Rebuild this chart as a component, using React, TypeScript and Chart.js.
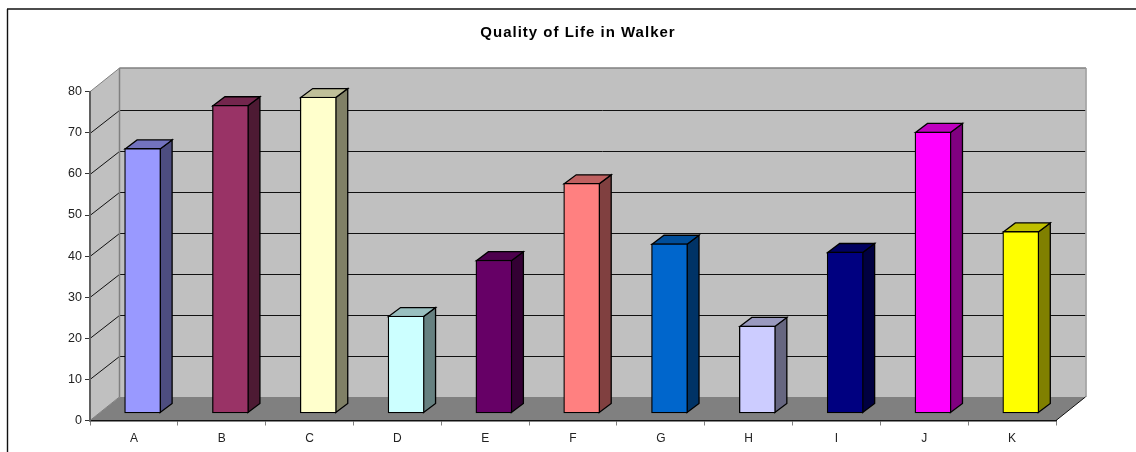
import React, { useEffect, useRef } from "react";
import { Chart, registerables } from "chart.js";

Chart.register(...registerables);

const TITLE = "Quality of Life in Walker";
const categories = ["A", "B", "C", "D", "E", "F", "G", "H", "I", "J", "K"];
const qualityValues = [64.5, 75, 77, 23.7, 37.3, 56, 41.3, 21.3, 39.3, 68.5, 44.3];
const barColors = ["#9999FF", "#993366", "#FFFFCC", "#CCFFFF", "#660066", "#FF8080", "#0066CC", "#CCCCFF", "#000080", "#FF00FF", "#FFFF00"];
const axisMax = 80;
const axisStep = 10;

const DEPTH_X = 29.5;
const DEPTH_Y = 23.6;
const BAR_OFFSET_X = 8.7;
const BAR_OFFSET_Y = 7;
const BAR_DEPTH_X = 12;
const BAR_DEPTH_Y = 9;

function shade(hex: string, f: number) {
  const n = parseInt(hex.slice(1), 16);
  const c = (v: number) => Math.round(v * f);
  return `rgb(${c((n >> 16) & 255)},${c((n >> 8) & 255)},${c(n & 255)})`;
}

function poly(ctx: CanvasRenderingContext2D, pts: number[][], fill: string | null, stroke: string | null, lw = 1) {
  ctx.beginPath();
  pts.forEach((p, i) => (i ? ctx.lineTo(p[0], p[1]) : ctx.moveTo(p[0], p[1])));
  ctx.closePath();
  if (fill) { ctx.fillStyle = fill; ctx.fill(); }
  if (stroke) { ctx.strokeStyle = stroke; ctx.lineWidth = lw; ctx.stroke(); }
}

function line(ctx: CanvasRenderingContext2D, x1: number, y1: number, x2: number, y2: number, color: string, lw = 1) {
  ctx.beginPath();
  ctx.moveTo(x1, y1);
  ctx.lineTo(x2, y2);
  ctx.strokeStyle = color;
  ctx.lineWidth = lw;
  ctx.stroke();
}

const box3d = {
  id: "box3d",
  afterLayout(chart: any) {
    const tb = chart.titleBlock;
    if (!tb) return;
    tb.left = 100;
    if (!tb.__spaced) {
      tb.__spaced = true;
      const draw = tb.draw.bind(tb);
      tb.draw = () => {
        chart.ctx.letterSpacing = "1px";
        draw();
        chart.ctx.letterSpacing = "0px";
      };
    }
  },
  beforeDraw(chart: any) {
    const { ctx, chartArea: a, scales } = chart;
    const { left: l, right: r, top: t, bottom: b } = a;
    ctx.save();
    // outer frame
    line(ctx, 7, 9, 1136, 9, "#111", 1.4);
    line(ctx, 7.5, 9, 7.5, 452, "#111", 1.4);
    // walls and floor
    poly(ctx, [[l, b], [l + DEPTH_X, b - DEPTH_Y], [l + DEPTH_X, t - DEPTH_Y], [l, t]], "#C0C0C0", null);
    poly(ctx, [[l + DEPTH_X, b - DEPTH_Y], [r + DEPTH_X, b - DEPTH_Y], [r + DEPTH_X, t - DEPTH_Y], [l + DEPTH_X, t - DEPTH_Y]], "#C0C0C0", null);
    poly(ctx, [[l, b], [r, b], [r + DEPTH_X, b - DEPTH_Y], [l + DEPTH_X, b - DEPTH_Y]], "#808080", null);
    // gridlines on both walls
    for (const tk of scales.y.ticks) {
      if (tk.value === 0 || tk.value === axisMax) continue;
      const y = Math.round(scales.y.getPixelForValue(tk.value)) + 0.5;
      const by = Math.round(y - DEPTH_Y) + 0.5;
      line(ctx, l, y, l + DEPTH_X, by, "#111");
      line(ctx, l + DEPTH_X, by, r + DEPTH_X, by, "#111");
    }
    // wall edges
    line(ctx, l + DEPTH_X, t - DEPTH_Y, l + DEPTH_X, b - DEPTH_Y, "#808080", 1.5);
    line(ctx, l + DEPTH_X, t - DEPTH_Y, r + DEPTH_X + 0.5, t - DEPTH_Y, "#808080", 1.5);
    line(ctx, r + DEPTH_X + 0.5, t - DEPTH_Y, r + DEPTH_X + 0.5, b - DEPTH_Y, "#969696", 1.5);
    line(ctx, l, t, l + DEPTH_X, t - DEPTH_Y, "#808080", 1);
    line(ctx, l, b, l + DEPTH_X, b - DEPTH_Y, "#808080", 1);
    line(ctx, r, b, r + DEPTH_X, b - DEPTH_Y, "#111", 1);
    ctx.restore();
  },
  beforeDatasetsDraw(chart: any) {
    const { ctx } = chart;
    const meta = chart.getDatasetMeta(0);
    ctx.save();
    ctx.lineJoin = "miter";
    meta.data.forEach((el: any, i: number) => {
      const x0 = el.x - el.width / 2 + BAR_OFFSET_X + 0.5;
      const x1 = el.x + el.width / 2 + BAR_OFFSET_X - 0.5;
      const top = el.y - BAR_OFFSET_Y + 0.5;
      const bot = el.base - BAR_OFFSET_Y - 0.5;
      poly(ctx, [[x1, top], [x1 + BAR_DEPTH_X, top - BAR_DEPTH_Y], [x1 + BAR_DEPTH_X, bot - BAR_DEPTH_Y], [x1, bot]], shade(barColors[i], 0.5), "#000", 1.3);
      poly(ctx, [[x0, top], [x0 + BAR_DEPTH_X, top - BAR_DEPTH_Y], [x1 + BAR_DEPTH_X, top - BAR_DEPTH_Y], [x1, top]], shade(barColors[i], 0.75), "#000", 1.3);
    });
    ctx.restore();
    ctx.save();
    ctx.translate(BAR_OFFSET_X, -BAR_OFFSET_Y);
  },
  afterDatasetsDraw(chart: any) {
    chart.ctx.restore();
  },
};

export default function App() {
  const ref = useRef<HTMLCanvasElement>(null);
  useEffect(() => {
    const chart = new Chart(ref.current!, {
      type: "bar",
      plugins: [box3d],
      data: {
        labels: categories,
        datasets: [{
          data: qualityValues,
          backgroundColor: barColors,
          borderColor: "#000",
          borderWidth: 1.3,
          borderSkipped: false,
          barThickness: 36,
          clip: false,
        }],
      },
      options: {
        animation: false,
        responsive: false,
        layout: { padding: { left: 0, right: 80, top: 0, bottom: 0 } },
        plugins: {
          legend: { display: false },
          tooltip: { enabled: false },
          title: {
            display: true,
            text: TITLE,
            color: "#000",
            font: { family: "'Liberation Sans', Arial, sans-serif", size: 15, weight: "bold" },
            padding: { top: 24, bottom: 49.7 },
          },
        },
        scales: {
          x: {
            afterFit: (s: any) => { s.height = 31.5; },
            grid: { drawOnChartArea: false, drawTicks: true, tickLength: 5, color: "#808080" },
            border: { color: "#111", width: 1.5 },
            ticks: { color: "#222", padding: 6, maxRotation: 0, font: { family: "'Liberation Sans', Arial, sans-serif", size: 12 } },
          },
          y: {
            min: 0,
            max: axisMax,
            afterFit: (s: any) => { s.width = 90; },
            grid: { drawOnChartArea: false, drawTicks: true, tickLength: 5, color: "#333" },
            border: { color: "#606060", width: 2 },
            ticks: { stepSize: axisStep, color: "#222", padding: 3, font: { family: "'Liberation Sans', Arial, sans-serif", size: 12.5 } },
          },
        },
      },
    } as any);
    return () => chart.destroy();
  }, []);
  return (
    <div style={{ position: "fixed", left: 0, top: 0, width: 1136, height: 452, background: "#fff" }}>
      <canvas ref={ref} width={1136} height={452} style={{ display: "block" }} />
    </div>
  );
}
